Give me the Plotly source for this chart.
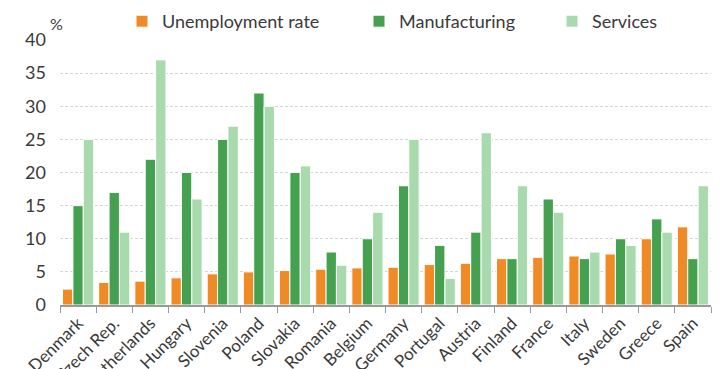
import plotly.graph_objects as go

countries = ["Denmark", "Czech Rep.", "Netherlands", "Hungary", "Slovenia", "Poland",
             "Slovakia", "Romania", "Belgium", "Germany", "Portugal", "Austria",
             "Finland", "France", "Italy", "Sweden", "Greece", "Spain"]
unemployment = [2.4, 3.4, 3.6, 4.1, 4.7, 5.0, 5.2, 5.4, 5.6, 5.7, 6.1, 6.3, 7.0, 7.2, 7.4, 7.7, 10.0, 11.8]
manufacturing = [15, 17, 22, 20, 25, 32, 20, 8, 10, 18, 9, 11, 7, 16, 7, 10, 13, 7]
services = [25, 11, 37, 16, 27, 30, 21, 6, 14, 25, 4, 26, 18, 14, 8, 9, 11, 18]
y_ticks = [0, 5, 10, 15, 20, 25, 30, 35, 40]

FONT = "Lato"
TXT = "#3a3a3a"

fig = go.Figure()
fig.add_bar(x=countries, y=unemployment, name="Unemployment rate",
            marker=dict(color="#F08A24", line=dict(color="white", width=1)), legend="legend")
fig.add_bar(x=countries, y=manufacturing, name="Manufacturing",
            marker=dict(color="#45A150", line=dict(color="white", width=1)), legend="legend2")
fig.add_bar(x=countries, y=services, name="Services",
            marker=dict(color="#A9DAAE", line=dict(color="white", width=1)), legend="legend3")

W, H = 721, 369
ml, mr, mt, mb = 52, 18, 32, 72
pw = W - ml - mr

def leg(px):
    return dict(orientation="h", x=(px - ml) / pw, xanchor="left", y=1.0, yanchor="bottom",
                font=dict(family=FONT, size=18, color=TXT), bgcolor="rgba(0,0,0,0)",
                visible=True)

fig.update_layout(
    width=W, height=H,
    margin=dict(l=ml, r=mr, t=mt, b=mb, autoexpand=False),
    paper_bgcolor="white", plot_bgcolor="white",
    barmode="group", bargap=0.14, bargroupgap=0,
    font=dict(family=FONT, color=TXT),
    showlegend=True,
    legend=leg(114), legend2=leg(351), legend3=leg(544),
    xaxis=dict(
        showline=True, linecolor="#9a9a9a", linewidth=1.5,
        ticks="outside", tickson="boundaries", ticklen=6, tickcolor="#9a9a9a",
        tickangle=-45, tickfont=dict(family=FONT, size=17, color=TXT),
        automargin=False, showgrid=False,
    ),
    yaxis=dict(
        range=[0, 40], tickvals=y_ticks, showline=False, ticks="",
        showgrid=True, gridcolor="#d6d6d6", griddash="3px,2px", gridwidth=1,
        zeroline=False, tickfont=dict(family=FONT, size=18, color=TXT),
        automargin=False, ticklabelstandoff=13,
    ),
    annotations=[dict(text="%", xref="paper", yref="paper", x=-0.019, y=1.0,
                      xanchor="left", yanchor="bottom", showarrow=False, yshift=5,
                      font=dict(family=FONT, size=16, color=TXT))],
)

fig.write_html("out.html")
